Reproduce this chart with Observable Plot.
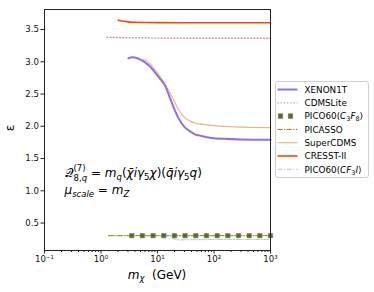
<!DOCTYPE html>
<html>
<head>
<meta charset="utf-8">
<script src="https://cdn.jsdelivr.net/npm/d3@7"></script>
<script src="https://cdn.jsdelivr.net/npm/@observablehq/plot@0.6"></script>
<style>
  html, body { margin: 0; padding: 0; background: #fff; }
  #chart { position: relative; width: 374px; height: 292px; }
</style>
</head>
<body>
<div id="chart"></div>
<script>
// ---- data ----
const xenonMass = [3.05, 3.6, 4.5, 6.0, 7.5, 9.0, 11, 13.6, 17.8, 23.4, 30.7, 38, 46, 60, 91, 150, 300, 1000];
const xenonEps  = [3.053, 3.07, 3.05, 2.99, 2.92, 2.835, 2.74, 2.63, 2.37, 2.13, 1.98, 1.92, 1.875, 1.85, 1.82, 1.805, 1.795, 1.79];

const cdmsliteMass = [1.26, 2, 5, 20, 100, 1000];
const cdmsliteEps  = [3.38, 3.375, 3.37, 3.367, 3.365, 3.365];

const pico60c3f8Mass = [3.5, 5.41, 8.36, 12.9, 19.95, 30.8, 47.6, 73.6, 113.8, 175.8, 271.6, 419.8, 647.1, 1000];
const pico60c3f8Eps  = [0.305, 0.305, 0.305, 0.305, 0.305, 0.305, 0.305, 0.305, 0.305, 0.305, 0.305, 0.305, 0.305, 0.305];

const picassoMass = [1.35, 10, 100, 1000];
const picassoEps  = [0.305, 0.305, 0.305, 0.305];

const supercdmsMass = [5.6, 6.5, 7.9, 9.5, 11.9, 14.5, 17.8, 23.4, 30.7, 38, 46, 60, 91, 234, 1000];
const supercdmsEps  = [3.04, 3.01, 2.94, 2.85, 2.73, 2.61, 2.47, 2.265, 2.13, 2.08, 2.05, 2.035, 2.015, 1.99, 1.98];

const cresstMass = [2.03, 2.5, 3, 4, 6, 10, 30, 100, 1000];
const cresstEps  = [3.645, 3.628, 3.618, 3.612, 3.608, 3.606, 3.605, 3.605, 3.605];

const pico60cf3iMass = [18, 20, 23, 27, 35, 60, 100, 1000];
const pico60cf3iEps  = [0.258, 0.252, 0.240, 0.240, 0.243, 0.244, 0.245, 0.245];

const yTicks = [0.5, 1.0, 1.5, 2.0, 2.5, 3.0, 3.5];
const xMajorTicks = [0.1, 1, 10, 100, 1000];
const xMajorLabels = ["10\u207B\u00B9", "10\u2070", "10\u00B9", "10\u00B2", "10\u00B3"];
const xMinorTicks = [0.2,0.3,0.4,0.5,0.6,0.7,0.8,0.9, 2,3,4,5,6,7,8,9, 20,30,40,50,60,70,80,90, 200,300,400,500,600,700,800,900];

const seriesNames = ["XENON1T", "CDMSLite", "PICO60(C3F8)", "PICASSO", "SuperCDMS", "CRESST-II", "PICO60(CF3I)"];

// ---- styles ----
const styles = {
  "XENON1T":      {stroke: "#9370db", strokeWidth: 2.0, dash: null},
  "CDMSLite":     {stroke: "#bc8f8f", strokeWidth: 1.2, dash: "1.2,2"},
  "PICO60(C3F8)": {stroke: "#556b2f", strokeWidth: 0, dash: null, marker: true},
  "PICASSO":      {stroke: "#808000", strokeWidth: 1.0, dash: "5,1.5,1.2,1.5"},
  "SuperCDMS":    {stroke: "#deb887", strokeWidth: 1.2, dash: null},
  "CRESST-II":    {stroke: "#ff4500", strokeWidth: 1.6, dash: null},
  "PICO60(CF3I)": {stroke: "#a6dba0", strokeWidth: 1.0, dash: "5,1.5,1.2,1.5"}
};

const zipData = (ms, es) => ms.map((m, i) => ({m, e: es[i]}));
const xenon = zipData(xenonMass, xenonEps);
const cdmslite = zipData(cdmsliteMass, cdmsliteEps);
const pico1 = zipData(pico60c3f8Mass, pico60c3f8Eps);
const picasso = zipData(picassoMass, picassoEps);
const supercdms = zipData(supercdmsMass, supercdmsEps);
const cresst = zipData(cresstMass, cresstEps);
const pico2 = zipData(pico60cf3iMass, pico60cf3iEps);

const lineOpt = (name) => ({
  x: "m", y: "e", curve: "monotone-x",
  stroke: styles[name].stroke, strokeWidth: styles[name].strokeWidth,
  strokeDasharray: styles[name].dash || undefined
});

const plot = Plot.plot({
  width: 374, height: 292,
  marginLeft: 44, marginRight: 104, marginTop: 9, marginBottom: 42,
  style: {fontFamily: "DejaVu Sans", fontSize: "8.6px", color: "#111", background: "#fff"},
  x: {type: "log", domain: [0.1, 1000], label: null},
  y: {domain: [0.075, 3.81], label: null},
  marks: [
    Plot.line(picasso, lineOpt("PICASSO")),
    Plot.line(pico2, lineOpt("PICO60(CF3I)")),
    Plot.dot(pico1, {x: "m", y: "e", symbol: "square", r: 2.5, fill: "#556b2f", stroke: "#7a8a5a", strokeWidth: 0.6}),
    Plot.line(cdmslite, lineOpt("CDMSLite")),
    Plot.line(supercdms, lineOpt("SuperCDMS")),
    Plot.line(xenon, lineOpt("XENON1T")),
    Plot.line(cresst, lineOpt("CRESST-II")),
    Plot.axisY({ticks: yTicks, tickFormat: d3.format(".1f"), tickSize: 3.5, tickPadding: 2, label: null, stroke: "#222"}),
    Plot.axisX({ticks: xMajorTicks, tickFormat: (d) => xMajorLabels[xMajorTicks.indexOf(d)], tickSize: 3.5, tickPadding: 2, label: null, stroke: "#222"}),
    Plot.axisX({ticks: xMinorTicks, tickFormat: () => "", tickSize: 2, label: null, stroke: "#222"}),
    Plot.frame({stroke: "#222", strokeWidth: 1})
  ]
});

document.getElementById("chart").appendChild(plot);

const svg = d3.select(plot);

// ---- axis labels ----
const xl = svg.append("text")
  .attr("x", 157).attr("y", 278.5)
  .attr("text-anchor", "middle")
  .style("font-family", "DejaVu Sans").style("font-size", "12px").attr("fill", "#000");
xl.append("tspan").text("m").style("font-style", "italic");
xl.append("tspan").text("\u03C7").style("font-style", "italic").style("font-size", "8.5px").attr("dy", 2.5);
xl.append("tspan").text("\u00A0\u00A0(GeV)").attr("dy", -2.5);

svg.append("text")
  .attr("transform", "translate(14,128) rotate(-90)")
  .attr("text-anchor", "middle")
  .style("font-family", "DejaVu Sans").style("font-size", "12px").attr("fill", "#000")
  .text("\u03B5");

// ---- annotation ----
function mathText(x, y, parts) {
  const t = svg.append("text").attr("x", x).attr("y", y)
    .attr("text-anchor", "start")
    .style("font-family", "DejaVu Sans").style("font-size", "12px").attr("fill", "#000");
  parts.forEach(p => {
    const ts = t.append("tspan").text(p.t);
    if (p.i) ts.style("font-style", "italic");
    if (p.s) ts.style("font-size", p.s + "px");
    if (p.dy) ts.attr("dy", p.dy);
    if (p.dx) ts.attr("dx", p.dx);
  });
}
mathText(64.5, 176.5, [
  {t: "\uD835\uDCAC", i: false},
  {t: "(7)", s: 8.5, dy: -6},
  {t: "8,", s: 8.5, dy: 10, dx: -12},
  {t: "q", s: 8.5, i: true},
  {t: " = ", dy: -4},
  {t: "m", i: true},
  {t: "q", i: true, s: 8.5, dy: 3},
  {t: "(", dy: -3},
  {t: "\u03C7\u0304i\u03B3", i: true},
  {t: "5", s: 8.5, dy: 3},
  {t: "\u03C7", i: true, dy: -3},
  {t: ")("},
  {t: "q\u0304i\u03B3", i: true},
  {t: "5", s: 8.5, dy: 3},
  {t: "q", i: true, dy: -3},
  {t: ")"}
]);
mathText(64.5, 193.5, [
  {t: "\u03BC", i: true},
  {t: "scale", i: true, s: 8.5, dy: 3},
  {t: " = ", dy: -3},
  {t: "m", i: true},
  {t: "Z", i: true, s: 8.5, dy: 3}
]);

// ---- legend ----
const lg = svg.append("g").attr("transform", "translate(275,81)");
lg.append("rect").attr("x", 0.5).attr("y", 0.5).attr("width", 93).attr("height", 96)
  .attr("rx", 2.5).attr("fill", "#fff").attr("fill-opacity", 0.85).attr("stroke", "#d0d0d0").attr("stroke-width", 1);
const labelParts = {
  "PICO60(C3F8)": [{t: "PICO60("}, {t: "C", i: true}, {t: "3", s: 6.5, dy: 2}, {t: "F", i: true, dy: -2}, {t: "8", s: 6.5, dy: 2}, {t: ")", dy: -2}],
  "PICO60(CF3I)": [{t: "PICO60("}, {t: "CF", i: true}, {t: "3", s: 6.5, dy: 2}, {t: "I", i: true, dy: -2}, {t: ")"}]
};
seriesNames.forEach((name, i) => {
  const cy = 8.5 + i * 13.3;
  const st = styles[name];
  if (st.marker) {
    [5.5, 15.5].forEach(cx => lg.append("rect").attr("x", cx - 2.3).attr("y", cy - 2.3).attr("width", 4.6).attr("height", 4.6)
      .attr("fill", st.stroke).attr("stroke", "#7a8a5a").attr("stroke-width", 0.6));
  } else {
    lg.append("line").attr("x1", 2.5).attr("x2", 22.5).attr("y1", cy).attr("y2", cy)
      .attr("stroke", st.stroke).attr("stroke-width", st.strokeWidth)
      .attr("stroke-dasharray", st.dash);
  }
  const t = lg.append("text").attr("x", 29.5).attr("y", cy + 3.2)
    .attr("text-anchor", "start")
    .style("font-family", "DejaVu Sans").style("font-size", "8.8px").attr("fill", "#000");
  (labelParts[name] || [{t: name}]).forEach(p => {
    const ts = t.append("tspan").text(p.t);
    if (p.i) ts.style("font-style", "italic");
    if (p.s) ts.style("font-size", p.s + "px");
    if (p.dy) ts.attr("dy", p.dy);
  });
});
</script>
</body>
</html>
